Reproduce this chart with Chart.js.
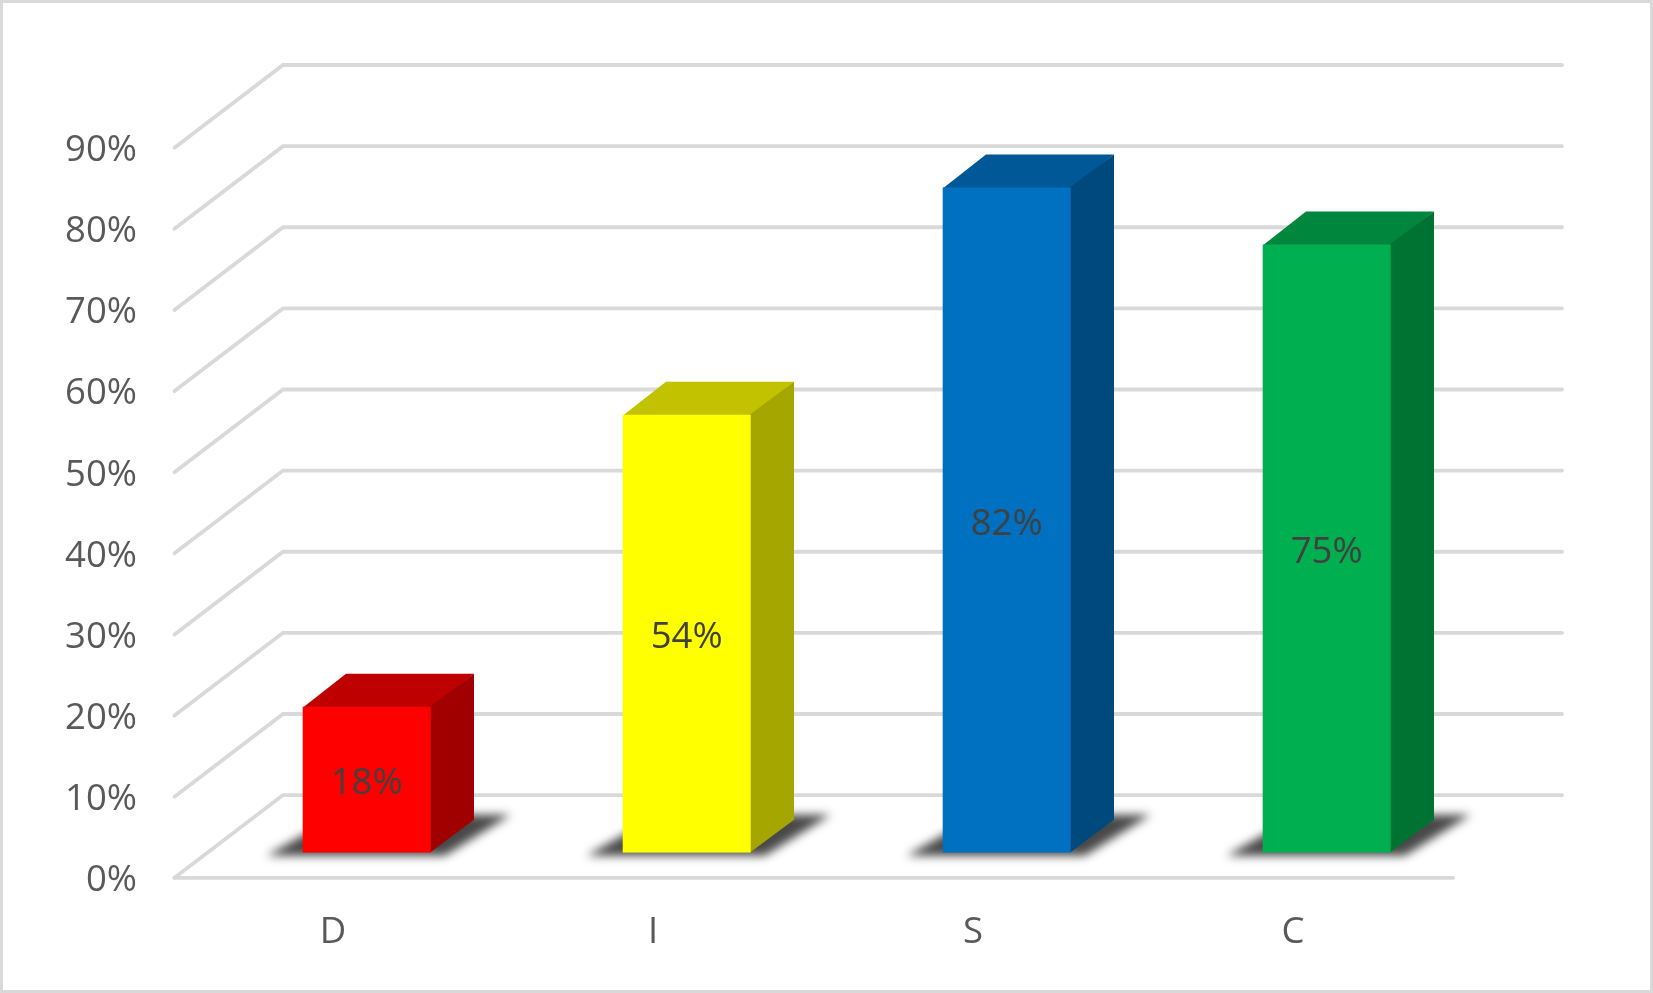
<!DOCTYPE html>
<html><head><meta charset="utf-8">
<style>html,body{margin:0;padding:0;background:#fff}#wrap{position:absolute;left:0;top:0;width:1653px;height:993px}</style>
<script src="https://cdn.jsdelivr.net/npm/chart.js@4"></script></head>
<body><div id="wrap"><canvas id="c"></canvas></div>
<script>
const categories = ['D','I','S','C'];
const values = [18,54,82,75];
const frontColors = ['#ff0000','#ffff00','#0070c0','#00b050'];
const topColors = ['#bf0000','#c2c200','#005896','#00873d'];
const sideColors = ['#a00000','#a6a600','#00497d','#007232'];
const yTicksMax = 90, yStep = 10;

const FONT = '"Open Sans"';
const labelLift = 3;
const wallDX = 110, wallDY = 82.7, wallRight = 1562;
const barShiftX = 33.7, barShiftY = 25 + labelLift, depthX = 43.3, depthY = 33;

const scene = {
  id:'scene',
  beforeDraw(ch){
    const c = ch.ctx;
    c.save();
    c.fillStyle='#fff'; c.fillRect(0,0,ch.width,ch.height);
    c.strokeStyle='#d9d9d9'; c.lineWidth=3; c.strokeRect(1.5,1.5,ch.width-3,ch.height-3);
    c.restore();
  },
  beforeDatasetsDraw(ch){
    const c = ch.ctx, a = ch.chartArea, y = ch.scales.y;
    c.save();
    c.strokeStyle='#d9d9d9'; c.lineWidth=3.8; c.lineCap='round'; c.lineJoin='miter';
    y.ticks.forEach(t=>{
      const py = y.getPixelForValue(t.value) - labelLift;
      c.beginPath();
      c.moveTo(a.left+1.5,py);
      c.lineTo(a.left+wallDX,py-wallDY);
      c.lineTo(wallRight,py-wallDY);
      c.stroke();
    });
    c.beginPath(); c.moveTo(a.left+1.5,a.bottom-labelLift); c.lineTo(a.right,a.bottom-labelLift); c.stroke();
    c.restore();
  },
  beforeDatasetDraw(ch,args){
    const c = ch.ctx;
    c.save();
    c.translate(barShiftX,-barShiftY);
    args.meta.data.forEach((bar,i)=>{
      const {x,y,base,width} = bar.getProps(['x','y','base','width'],true);
      const l=x-width/2, r=x+width/2;
      // soft floor shadow
      c.save();
      c.filter='blur(5px)';
      c.fillStyle='#484848';
      c.beginPath();
      c.moveTo(l-36,base+3);
      c.lineTo(r+14,base+3);
      c.lineTo(r+80,base-38);
      c.lineTo(l+36,base-38);
      c.closePath(); c.fill();
      c.restore();
      // top
      c.fillStyle=topColors[i];
      c.beginPath();
      c.moveTo(l,y+1);c.lineTo(l+depthX,y-depthY);c.lineTo(r+depthX,y-depthY);c.lineTo(r,y+1);
      c.closePath();c.fill();
      // side
      c.fillStyle=sideColors[i];
      c.beginPath();
      c.moveTo(r-1,y);c.lineTo(r+depthX,y-depthY);c.lineTo(r+depthX,base-depthY);c.lineTo(r-1,base);
      c.closePath();c.fill();
    });
  },
  afterDatasetDraw(ch,args){
    const c = ch.ctx;
    args.meta.data.forEach((bar,i)=>{
      const {x,y,base} = bar.getProps(['x','y','base'],true);
      c.fillStyle='#404040';
      c.font='36.5px '+FONT;
      c.textAlign='center'; c.textBaseline='middle';
      c.fillText(values[i]+'%',x,(y+base)/2+4);
    });
    c.restore();
  }
};

new Chart(document.getElementById('c'),{
  type:'bar',
  data:{labels:categories,datasets:[{data:values,backgroundColor:frontColors,borderWidth:0,barPercentage:0.4,categoryPercentage:1}]},
  plugins:[scene],
  options:{
    responsive:true,maintainAspectRatio:false,animation:false,
    events:[],
    layout:{padding:{top:150.7,right:200,left:0,bottom:0}},
    plugins:{legend:{display:false},title:{display:false},tooltip:{enabled:false}},
    scales:{
      x:{
        grid:{display:false,drawTicks:false},border:{display:false},
        afterFit(s){s.height=112.2},
        ticks:{color:'#595959',font:{family:FONT,size:36.5},padding:30,maxRotation:0}
      },
      y:{
        min:0,max:yTicksMax,
        grid:{display:false,drawTicks:false},border:{display:false},
        afterFit(s){s.width=173},
        ticks:{stepSize:yStep,color:'#595959',font:{family:FONT,size:36.5},padding:36,callback:v=>v+'%'}
      }
    }
  }
});
</script></body></html>
